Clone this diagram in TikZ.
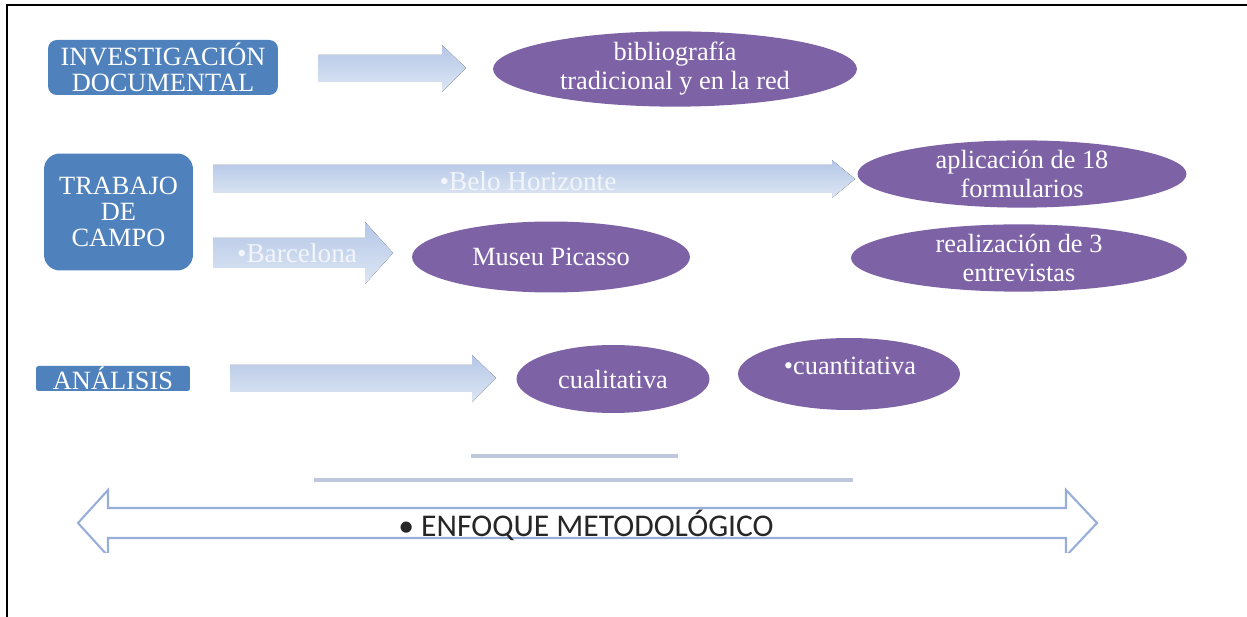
\documentclass[tikz,border=0pt]{standalone}
\usepackage{fontspec}
\setmainfont{Liberation Serif}
\newfontfamily\calib{Carlito}
\usetikzlibrary{shapes.geometric}
\definecolor{boxblue}{HTML}{4F81BD}
\definecolor{ellpurple}{HTML}{7E62A6}
\definecolor{arrtop}{HTML}{B5C7E6}
\definecolor{arrbot}{HTML}{DDE6F4}
\definecolor{rulegray}{HTML}{BCC8DC}
\definecolor{outlineblue}{HTML}{98AEDA}
\definecolor{arrtext}{HTML}{F2F5FB}
\tikzset{
  bluebox/.style={fill=boxblue, draw=none, text=white, align=center, inner sep=0pt,
    font=\fontsize{15}{14.7}\selectfont},
  purpleell/.style={ellipse, fill=ellpurple, draw=none, text=white, align=center, inner sep=0pt,
    font=\fontsize{15}{16.5}\selectfont},
  blockarrow/.style={top color=arrtop, bottom color=arrbot, draw=none},
  arrlabel/.style={text=arrtext, font=\fontsize{15.5}{17}\selectfont, inner sep=0pt},
  ruleline/.style={draw=rulegray, line width=2pt},
  framerule/.style={draw=black, line width=1.6pt}
}
\begin{document}
\begin{tikzpicture}[x=0.02cm,y=-0.02cm]
\useasboundingbox (0,0) rectangle (1247,617);
% frame
\draw[framerule] (7,617) -- (7,5) -- (1247,5);

% row 1
\node[bluebox, rounded corners=5pt, minimum width=4.6cm, minimum height=1.1cm] (inv) at (163,67.5) {INVESTIGACIÓN\\DOCUMENTAL};
\fill[blockarrow] (318,55) -- (442,55) -- (442,45) -- (466,68) -- (442,92) -- (442,82) -- (318,82) -- cycle;
\node[purpleell, minimum width=7.28cm, minimum height=1.24cm] (bib) at (675,69) {bibliografía\\tradicional y en la red};

% row 2
\node[bluebox, rounded corners=9pt, minimum width=2.98cm, minimum height=2.34cm] (tra) at (118.5,212) {TRABAJO\\DE\\CAMPO};
\fill[blockarrow] (213,165) -- (832,165) -- (832,160) -- (855,179) -- (832,198) -- (832,193) -- (213,193) -- cycle;
\node[arrlabel] (belo) at (528,181) {•Belo Horizonte};
\node[purpleell, minimum width=6.58cm, minimum height=1.24cm] (apl) at (1022,174) {aplicación de 18\\formularios};

\fill[blockarrow] (213,238) -- (365,238) -- (365,222) -- (393,253) -- (365,284) -- (365,268) -- (213,268) -- cycle;
\node[arrlabel] (bcn) at (297,253) {•Barcelona};
\node[purpleell, minimum width=5.56cm, minimum height=1.42cm] (mus) at (551,257) {Museu Picasso};
\node[purpleell, minimum width=6.72cm, minimum height=1.28cm] (rea) at (1019,258) {realización de 3\\entrevistas};

% row 3
\node[bluebox, rounded corners=1pt, minimum width=3.08cm, minimum height=0.5cm] (ana) at (113,378.5) {ANÁLISIS};
\fill[blockarrow] (230,365) -- (472,365) -- (472,355) -- (496,378) -- (472,402) -- (472,392) -- (230,392) -- cycle;
\node[purpleell, minimum width=3.86cm, minimum height=1.36cm] (cual) at (613,379) {cualitativa};
\node[purpleell, minimum width=4.44cm, minimum height=1.44cm] (cuan) at (849,374) {};
\node[text=white, font=\fontsize{15}{16.5}\selectfont, inner sep=0pt] (cuant) at (850,366) {•cuantitativa};

% rules
\draw[ruleline] (471,456) -- (678,456);
\draw[ruleline] (314,480) -- (853,480);

% double outline arrow
\begin{scope}
\clip (0,0) rectangle (1247,553);
\draw[outlineblue, line width=1.2pt, line join=miter]
  (78,523) -- (108,490) -- (108,508) -- (1066,508) -- (1066,490) -- (1097,523)
  -- (1066,556) -- (1066,538) -- (108,538) -- (108,556) -- cycle;
\end{scope}
\node[text=black!85, font=\calib\fontsize{18}{20}\selectfont, inner sep=0pt] (enf) at (586,525) {•\ ENFOQUE METODOLÓGICO};
\end{tikzpicture}
\end{document}
